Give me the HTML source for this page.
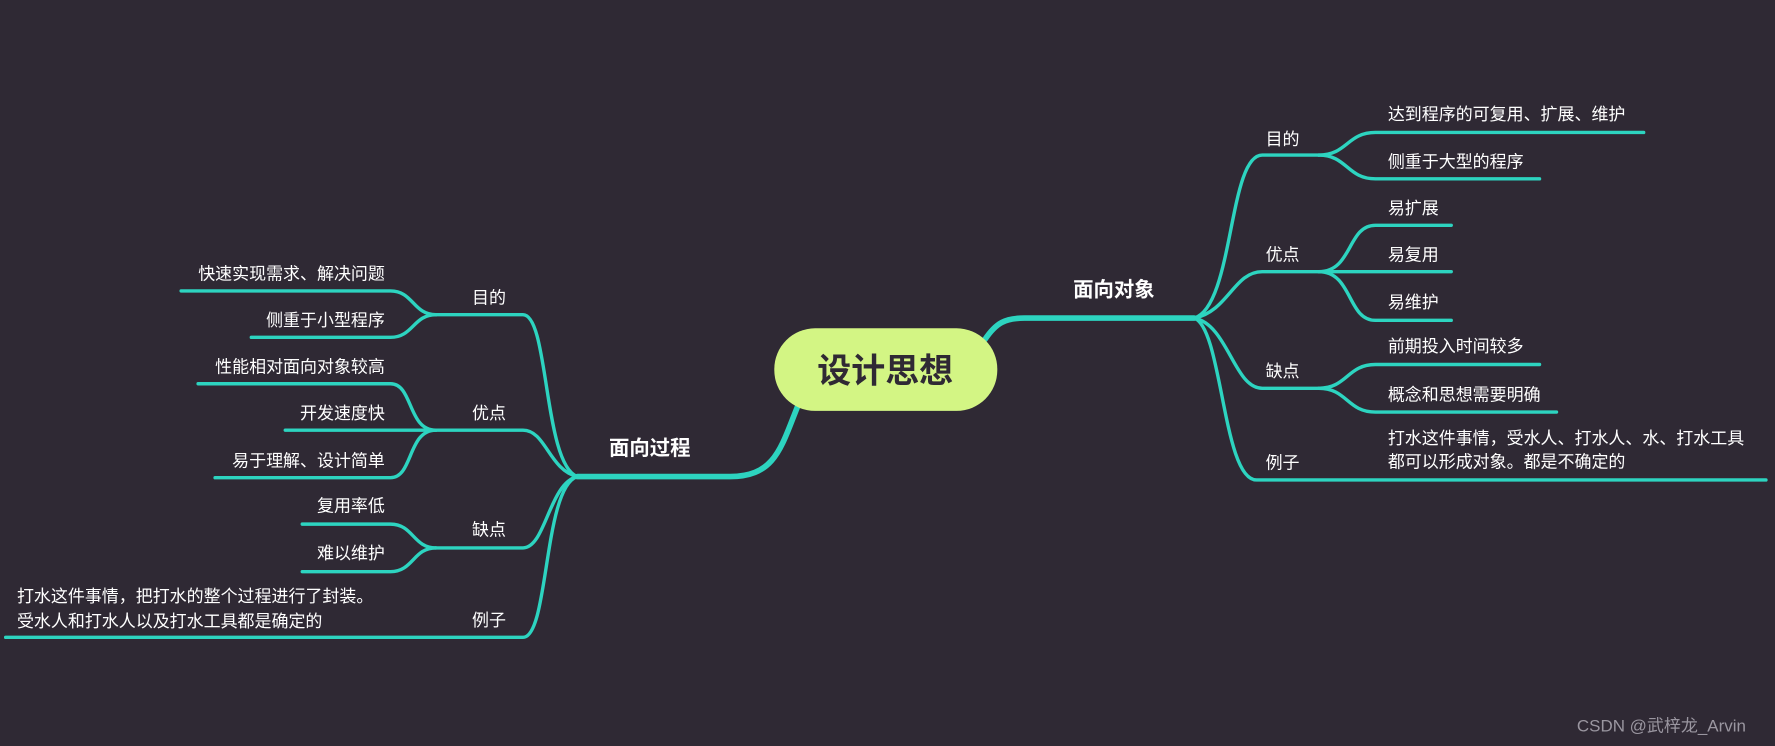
<!DOCTYPE html>
<html><head><meta charset="utf-8"><style>
html,body{margin:0;padding:0;background:#2f2934;}
svg{display:block}
text{font-family:"Liberation Sans","Noto Sans CJK SC",sans-serif;fill:#fff}
</style></head><body>
<svg width="1775" height="746" viewBox="0 0 1568 659" preserveAspectRatio="none">
<rect width="1568" height="659" fill="#2f2934"/>
<g fill="none" stroke="#2dd4c0" stroke-width="3" stroke-linecap="round">
<!-- center connectors -->
<path d="M870 300 C880 285 888 281 905 281 L1055 281" stroke-width="5"/>
<path d="M705 358 C690 395 685 421 645 421 L510 421" stroke-width="5"/>
<!-- right main branches -->
<path d="M1055 281 C1090 270 1085 137 1115 137 L1165 137"/>
<path d="M1055 281 C1085 275 1090 240 1115 240 L1165 240"/>
<path d="M1055 281 C1085 287 1090 343 1115 343 L1165 343"/>
<path d="M1055 281 C1080 290 1080 424 1110 424 L1560 424"/>
<!-- right children -->
<path d="M1165 137 C1190 137 1190 117 1215 117 L1452 117"/>
<path d="M1165 137 C1190 137 1190 158 1215 158 L1360 158"/>
<path d="M1165 240 C1195 240 1190 199 1215 199 L1282 199"/>
<path d="M1165 240 L1282 240"/>
<path d="M1165 240 C1195 240 1190 283 1215 283 L1282 283"/>
<path d="M1165 343 C1190 343 1190 322 1215 322 L1360 322"/>
<path d="M1165 343 C1190 343 1190 364 1215 364 L1375 364"/>
<!-- left main branches -->
<path d="M510 421 C480 410 485 278 462 278 L385 278"/>
<path d="M510 421 C485 415 482 380 462 380 L385 380"/>
<path d="M510 421 C485 427 482 484 462 484 L385 484"/>
<path d="M510 421 C480 430 485 563 462 563 L5 563"/>
<!-- left children -->
<path d="M385 278 C365 278 365 257 345 257 L160 257"/>
<path d="M385 278 C365 278 365 298 345 298 L222 298"/>
<path d="M385 380 C360 380 365 339 345 339 L175 339"/>
<path d="M385 380 L252 380"/>
<path d="M385 380 C360 380 365 422 345 422 L190 422"/>
<path d="M385 484 C365 484 365 463 345 463 L267 463"/>
<path d="M385 484 C365 484 365 505 345 505 L267 505"/>
</g>
<rect x="684" y="290" width="197" height="73" rx="36" fill="#d3f584"/>
<text x="782" y="338" text-anchor="middle" font-size="30" font-weight="bold" style="fill:#2f2934">设计思想</text>
<g font-size="18" font-weight="bold">
<text x="948" y="262">面向对象</text>
<text x="538" y="402">面向过程</text>
</g>
<g font-size="15">
<text x="1118" y="128">目的</text>
<text x="1118" y="230">优点</text>
<text x="1118" y="333">缺点</text>
<text x="1118" y="414">例子</text>
<text x="1226" y="106">达到程序的可复用、扩展、维护</text>
<text x="1226" y="148">侧重于大型的程序</text>
<text x="1226" y="189">易扩展</text>
<text x="1226" y="230">易复用</text>
<text x="1226" y="272">易维护</text>
<text x="1226" y="311">前期投入时间较多</text>
<text x="1226" y="354">概念和思想需要明确</text>
<text x="1226" y="392">打水这件事情，受水人、打水人、水、打水工具</text>
<text x="1226" y="413">都可以形成对象。都是不确定的</text>
<text x="417" y="268">目的</text>
<text x="417" y="370">优点</text>
<text x="417" y="473">缺点</text>
<text x="417" y="553">例子</text>
<g text-anchor="end">
<text x="340" y="247">快速实现需求、解决问题</text>
<text x="340" y="288">侧重于小型程序</text>
<text x="340" y="329">性能相对面向对象较高</text>
<text x="340" y="370">开发速度快</text>
<text x="340" y="412">易于理解、设计简单</text>
<text x="340" y="452">复用率低</text>
<text x="340" y="494">难以维护</text>
</g>
<text x="15" y="532">打水这件事情，把打水的整个过程进行了封装。</text>
<text x="15" y="554">受水人和打水人以及打水工具都是确定的</text>
</g>
<text x="1393" y="646" font-size="15" style="fill:#9a96a0">CSDN @武梓龙_Arvin</text>
</svg>
</body></html>
